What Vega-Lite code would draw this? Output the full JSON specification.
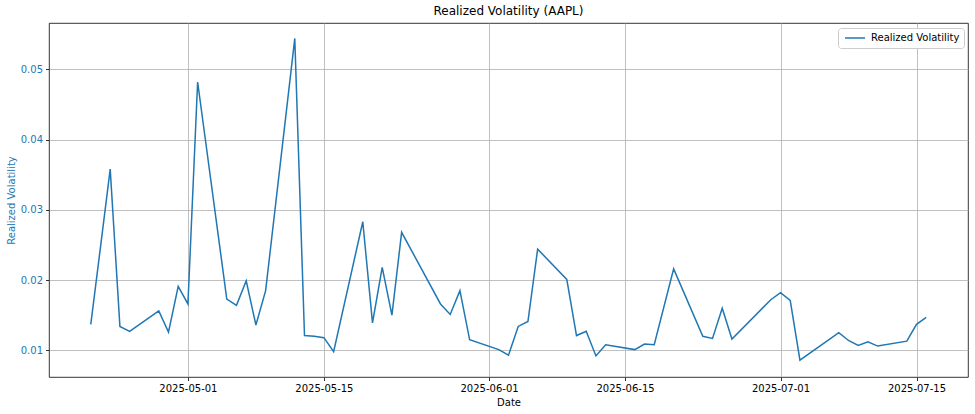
{
  "$schema": "https://vega.github.io/schema/vega-lite/v6.json",
  "width": 919,
  "height": 354,
  "autosize": "none",
  "padding": {"left": 49, "top": 23, "right": 7, "bottom": 37},
  "background": "white",
  "title": {"text": "Realized Volatility (AAPL)", "font": "DejaVu Sans", "fontSize": 12, "fontWeight": "normal", "color": "black", "offset": 5},
  "config": {
    "view": {"stroke": "black", "strokeWidth": 0.8},
    "axis": {
      "labelFont": "DejaVu Sans", "labelFontSize": 10, "labelColor": "black",
      "titleFont": "DejaVu Sans", "titleFontSize": 10, "titleFontWeight": "normal", "titleColor": "black",
      "gridColor": "#b0b0b0", "gridWidth": 0.8, "gridOpacity": 1,
      "tickColor": "black", "tickSize": 3.5, "tickWidth": 0.8,
      "domain": false
    }
  },
  "data": {"values": [
    {"date": "2025-04-21", "vol": 0.0137},
    {"date": "2025-04-22", "vol": 0.0247},
    {"date": "2025-04-23", "vol": 0.0358},
    {"date": "2025-04-24", "vol": 0.0134},
    {"date": "2025-04-25", "vol": 0.0127},
    {"date": "2025-04-28", "vol": 0.0156},
    {"date": "2025-04-29", "vol": 0.0126},
    {"date": "2025-04-30", "vol": 0.0191},
    {"date": "2025-05-01", "vol": 0.0166},
    {"date": "2025-05-02", "vol": 0.0482},
    {"date": "2025-05-05", "vol": 0.0173},
    {"date": "2025-05-06", "vol": 0.0164},
    {"date": "2025-05-07", "vol": 0.0199},
    {"date": "2025-05-08", "vol": 0.0136},
    {"date": "2025-05-09", "vol": 0.0185},
    {"date": "2025-05-12", "vol": 0.0544},
    {"date": "2025-05-13", "vol": 0.0121},
    {"date": "2025-05-14", "vol": 0.0120},
    {"date": "2025-05-15", "vol": 0.0118},
    {"date": "2025-05-16", "vol": 0.0098},
    {"date": "2025-05-19", "vol": 0.0283},
    {"date": "2025-05-20", "vol": 0.0139},
    {"date": "2025-05-21", "vol": 0.0218},
    {"date": "2025-05-22", "vol": 0.0150},
    {"date": "2025-05-23", "vol": 0.0268},
    {"date": "2025-05-27", "vol": 0.0166},
    {"date": "2025-05-28", "vol": 0.0151},
    {"date": "2025-05-29", "vol": 0.0185},
    {"date": "2025-05-30", "vol": 0.0115},
    {"date": "2025-06-02", "vol": 0.0101},
    {"date": "2025-06-03", "vol": 0.0093},
    {"date": "2025-06-04", "vol": 0.0134},
    {"date": "2025-06-05", "vol": 0.0141},
    {"date": "2025-06-06", "vol": 0.0244},
    {"date": "2025-06-09", "vol": 0.0201},
    {"date": "2025-06-10", "vol": 0.0121},
    {"date": "2025-06-11", "vol": 0.0127},
    {"date": "2025-06-12", "vol": 0.0092},
    {"date": "2025-06-13", "vol": 0.0108},
    {"date": "2025-06-16", "vol": 0.0101},
    {"date": "2025-06-17", "vol": 0.0109},
    {"date": "2025-06-18", "vol": 0.0108},
    {"date": "2025-06-20", "vol": 0.0216},
    {"date": "2025-06-23", "vol": 0.0120},
    {"date": "2025-06-24", "vol": 0.0117},
    {"date": "2025-06-25", "vol": 0.0160},
    {"date": "2025-06-26", "vol": 0.0116},
    {"date": "2025-06-30", "vol": 0.0172},
    {"date": "2025-07-01", "vol": 0.0182},
    {"date": "2025-07-02", "vol": 0.0171},
    {"date": "2025-07-03", "vol": 0.0086},
    {"date": "2025-07-07", "vol": 0.0125},
    {"date": "2025-07-08", "vol": 0.0114},
    {"date": "2025-07-09", "vol": 0.0107},
    {"date": "2025-07-10", "vol": 0.0112},
    {"date": "2025-07-11", "vol": 0.0106},
    {"date": "2025-07-14", "vol": 0.0113},
    {"date": "2025-07-15", "vol": 0.0137},
    {"date": "2025-07-16", "vol": 0.0147}
  ]},
  "mark": {"type": "line", "strokeWidth": 1.5, "clip": true},
  "encoding": {
    "x": {
      "field": "date", "type": "temporal", "title": "Date",
      "scale": {"type": "utc", "domain": [
        {"year": 2025, "month": 4, "date": 16, "hours": 16, "minutes": 48, "utc": true},
        {"year": 2025, "month": 7, "date": 20, "hours": 7, "minutes": 12, "utc": true}
      ]},
      "axis": {
        "format": "%Y-%m-%d", "labelAngle": 0, "labelPadding": 3, "titlePadding": 4,
        "values": [
          {"year": 2025, "month": 5, "date": 1, "utc": true},
          {"year": 2025, "month": 5, "date": 15, "utc": true},
          {"year": 2025, "month": 6, "date": 1, "utc": true},
          {"year": 2025, "month": 6, "date": 15, "utc": true},
          {"year": 2025, "month": 7, "date": 1, "utc": true},
          {"year": 2025, "month": 7, "date": 15, "utc": true}
        ]
      }
    },
    "y": {
      "field": "vol", "type": "quantitative", "title": "Realized Volatility",
      "scale": {"domain": [0.0062, 0.0566], "nice": false, "zero": false},
      "axis": {
        "values": [0.01, 0.02, 0.03, 0.04, 0.05], "format": ".2f",
        "labelColor": "#1f77b4", "titleColor": "#1f77b4", "labelPadding": 3, "titlePadding": 4
      }
    },
    "color": {
      "datum": "Realized Volatility", "type": "nominal",
      "scale": {"range": ["#1f77b4"]},
      "legend": {
        "title": null, "orient": "none", "legendX": 789, "legendY": 5,
        "symbolType": "stroke", "symbolSize": 400, "symbolStrokeWidth": 1.5,
        "clipHeight": 12, "symbolOffset": 2, "labelOffset": 5,
        "labelFont": "DejaVu Sans", "labelFontSize": 10, "labelColor": "black",
        "fillColor": "white", "strokeColor": "#cccccc", "cornerRadius": 3, "padding": 4
      }
    }
  }
}
